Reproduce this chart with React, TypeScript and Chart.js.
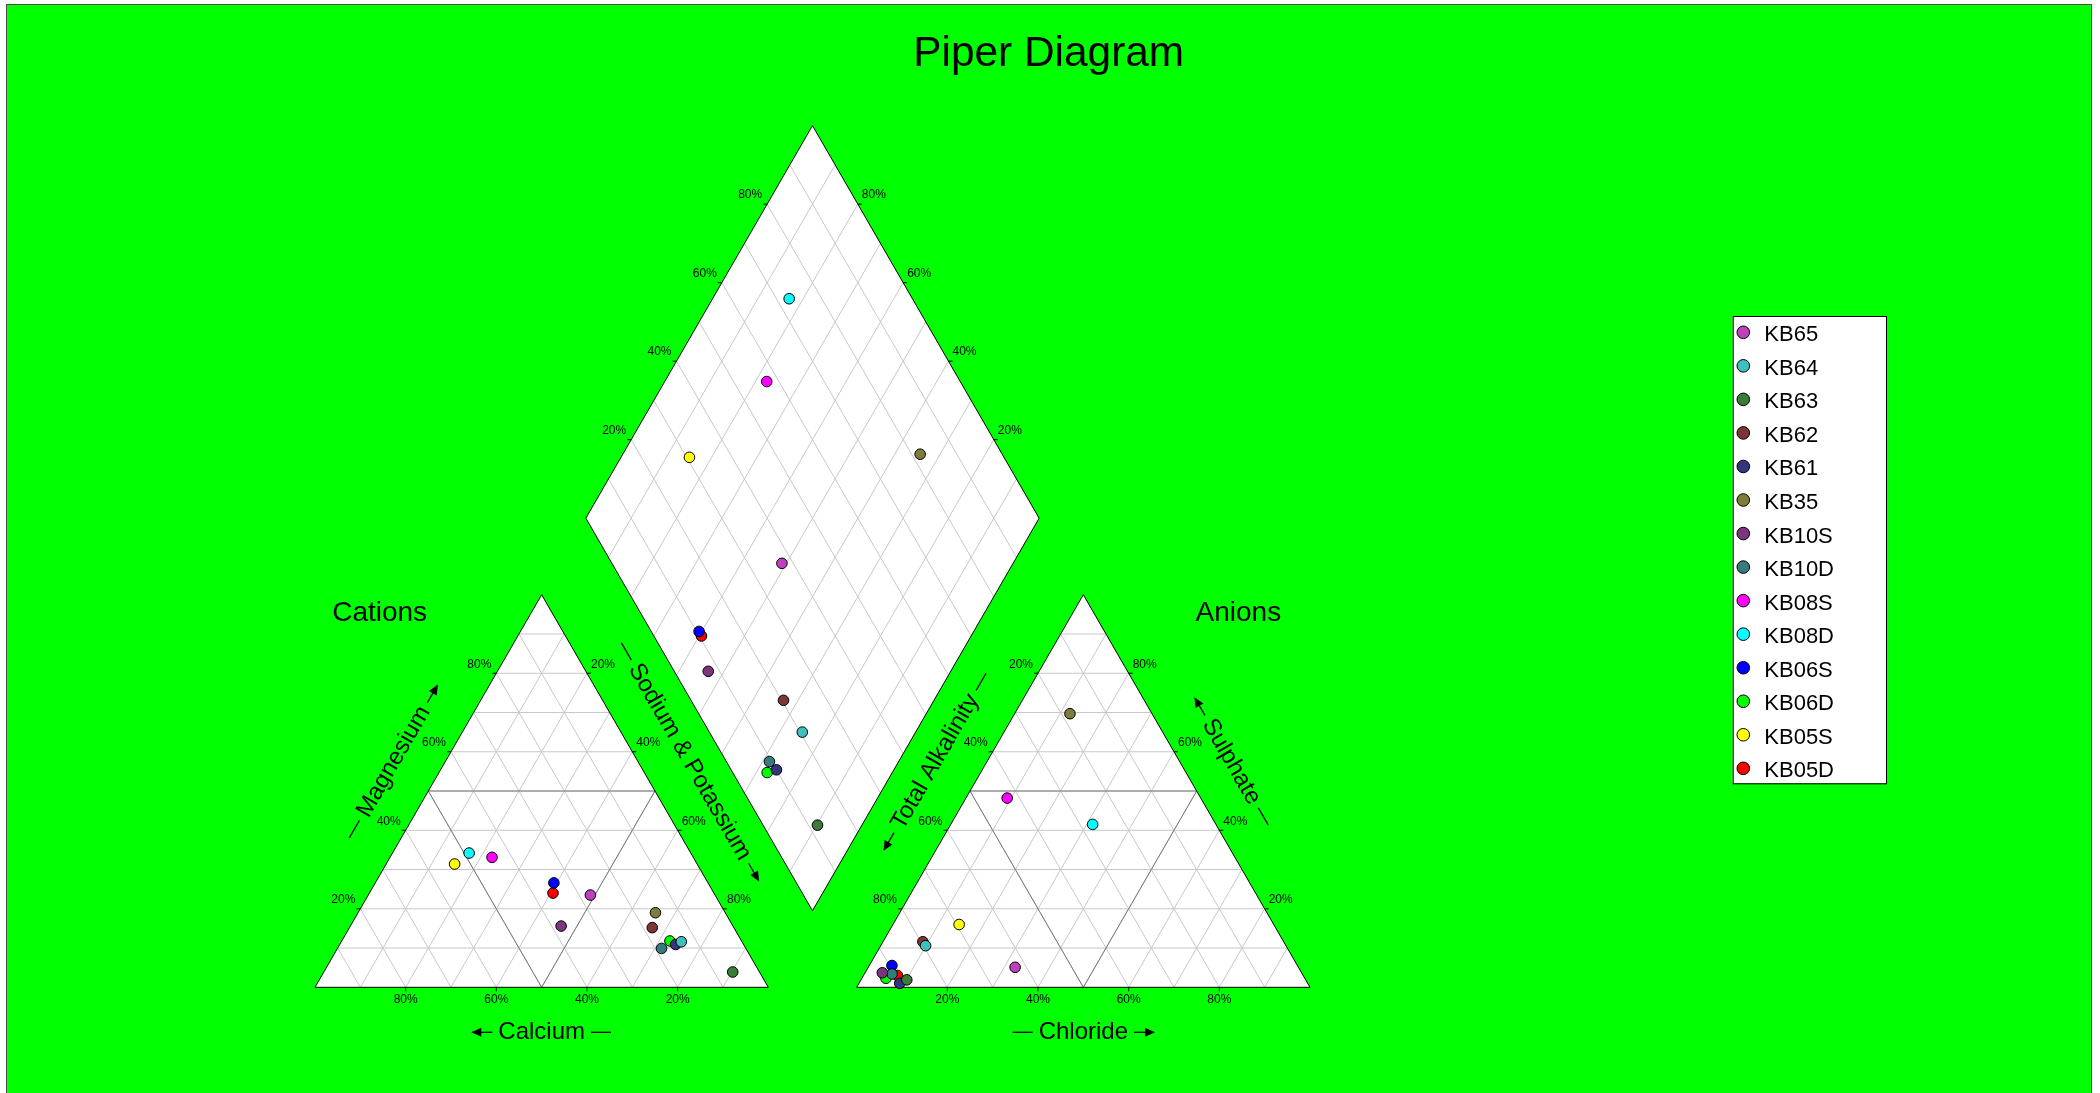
import React, { useEffect, useRef } from "react";
import { Chart, registerables } from "chart.js";

Chart.register(...registerables);

// ---- data (percent of milliequivalents) ----
const samples = ["KB65", "KB64", "KB63", "KB62", "KB61", "KB35", "KB10S", "KB10D", "KB08S", "KB08D", "KB06S", "KB06D", "KB05S", "KB05D"];
const colors = ["#bf40bf", "#40bfbf", "#3a7d3a", "#7d3535", "#35357d", "#7d7d3a", "#7d357d", "#357d7d", "#ff00ff", "#00ffff", "#0000ff", "#00ff00", "#ffff00", "#ff0000"];
const calcium = [27.5, 13.4, 5.9, 18.0, 15.0, 15.4, 37.9, 18.6, 44.4, 48.9, 34.0, 15.8, 53.5, 35.5];
const magnesium = [23.5, 11.6, 3.9, 15.2, 10.9, 19.0, 15.6, 9.9, 33.1, 34.2, 26.6, 11.8, 31.4, 24.0];
const sodiumPotassium = [49.0, 75.0, 90.2, 66.8, 74.1, 65.6, 46.5, 71.5, 22.5, 16.9, 39.4, 72.4, 15.1, 40.5];
const alkalinity = [62.5, 79.5, 88.0, 79.6, 90.0, 18.1, 92.5, 90.5, 42.7, 27.2, 89.45, 92.4, 69.4, 89.5];
const sulphate = [5.1, 10.6, 1.9, 11.6, 1.0, 69.7, 3.7, 3.4, 48.2, 41.5, 5.55, 2.3, 16.0, 3.0];
const chloride = [32.4, 9.9, 10.1, 8.8, 9.0, 12.2, 3.8, 6.1, 9.1, 31.3, 5.0, 5.3, 14.6, 7.5];
const tickValues = [20, 40, 60, 80];
const tickLabels = ["20%", "40%", "60%", "80%"];

// ---- geometry (data units, triangle side = 100) ----
const GAP = 19.5;
const H = Math.sqrt(3) / 2;
type P = { x: number; y: number };
const pt = (x: number, y: number): P => ({ x, y });
const lerp = (a: P, b: P, t: number): P => ({ x: a.x + (b.x - a.x) * t, y: a.y + (b.y - a.y) * t });

const catA = pt(0, 0), catB = pt(100, 0), catC = pt(50, 100 * H);
const anA = pt(100 + GAP, 0), anB = pt(200 + GAP, 0), anC = pt(150 + GAP, 100 * H);
const dB = pt(100 + GAP / 2, GAP * H), dL = pt(50 + GAP / 2, 100 * H + GAP * H);
const dR = pt(150 + GAP / 2, 100 * H + GAP * H), dT = pt(100 + GAP / 2, 200 * H + GAP * H);

function cationXY(i: number): P {
  const s = calcium[i] + magnesium[i] + sodiumPotassium[i];
  const mg = (magnesium[i] / s) * 100, na = (sodiumPotassium[i] / s) * 100;
  return { x: na + 0.5 * mg, y: H * mg };
}
function anionXY(i: number): P {
  const s = alkalinity[i] + sulphate[i] + chloride[i];
  const so4 = (sulphate[i] / s) * 100, cl = (chloride[i] / s) * 100;
  return { x: 100 + GAP + cl + 0.5 * so4, y: H * so4 };
}
function diamondXY(i: number): P {
  const sc = calcium[i] + magnesium[i] + sodiumPotassium[i];
  const sa = alkalinity[i] + sulphate[i] + chloride[i];
  const u = (calcium[i] + magnesium[i]) / sc;
  const v = (sulphate[i] + chloride[i]) / sa;
  return { x: 100 + GAP / 2 + 50 * (v - u), y: H * GAP + 100 * H * (u + v) };
}

const K = 4.533;
const X_MIN = -308 / K, X_MAX = (2084 - 308) / K;
const Y_MAX = 982.3 / K, Y_MIN = -(1088 - 982.3) / K;

const FONT = "'Liberation Sans', Arial, Helvetica, sans-serif";

const piperPlugin = {
  id: "piper",
  beforeDraw(chart: any) {
    const ctx = chart.ctx;
    ctx.save();
    ctx.fillStyle = "#00ff00";
    ctx.fillRect(0, 0, chart.width, chart.height);
    ctx.restore();
  },
  beforeDatasetsDraw(chart: any) {
    const ctx: CanvasRenderingContext2D = chart.ctx;
    const xs = chart.scales.x, ys = chart.scales.y;
    const px = (p: P) => ({ x: xs.getPixelForValue(p.x), y: ys.getPixelForValue(p.y) });
    const line = (a: P, b: P) => {
      const pa = px(a), pb = px(b);
      ctx.beginPath();
      ctx.moveTo(pa.x, pa.y);
      ctx.lineTo(pb.x, pb.y);
      ctx.stroke();
    };
    const poly = (pts: P[]) => {
      ctx.beginPath();
      pts.forEach((p, k) => {
        const q = px(p);
        if (k === 0) ctx.moveTo(q.x, q.y);
        else ctx.lineTo(q.x, q.y);
      });
      ctx.closePath();
    };
    ctx.save();
    // white fills
    ctx.fillStyle = "#ffffff";
    [[catA, catB, catC], [anA, anB, anC], [dB, dR, dT, dL]].forEach((sh) => {
      poly(sh);
      ctx.fill();
    });
    // light grid
    ctx.strokeStyle = "#c8c8c8";
    ctx.lineWidth = 1;
    [[catA, catB, catC], [anA, anB, anC]].forEach(([A, B, C]) => {
      for (let i = 1; i < 10; i++) {
        const f = i / 10;
        line(lerp(A, C, f), lerp(B, C, f));
        line(lerp(B, A, f), lerp(C, A, f));
        line(lerp(A, B, f), lerp(C, B, f));
      }
    });
    for (let i = 1; i < 10; i++) {
      const f = i / 10;
      line(lerp(dB, dR, f), lerp(dL, dT, f));
      line(lerp(dB, dL, f), lerp(dR, dT, f));
    }
    // inner classification triangles
    ctx.strokeStyle = "#787878";
    [[catA, catB, catC], [anA, anB, anC]].forEach(([A, B, C]) => {
      poly([lerp(A, B, 0.5), lerp(B, C, 0.5), lerp(C, A, 0.5)]);
      ctx.stroke();
    });
    // outlines
    ctx.strokeStyle = "#000000";
    [[catA, catB, catC], [anA, anB, anC], [dB, dR, dT, dL]].forEach((sh) => {
      poly(sh);
      ctx.stroke();
    });

    // ticks and tick labels
    ctx.fillStyle = "#000000";
    ctx.font = `12px ${FONT}`;
    const ticks = (from: P, to: P, side: "bottom" | "left" | "right") => {
      tickValues.forEach((v, k) => {
        const q = px(lerp(from, to, v / 100));
        ctx.beginPath();
        if (side === "bottom") {
          ctx.moveTo(q.x, q.y);
          ctx.lineTo(q.x, q.y + 4);
        } else if (side === "left") {
          ctx.moveTo(q.x, q.y);
          ctx.lineTo(q.x - 4, q.y);
        } else {
          ctx.moveTo(q.x, q.y);
          ctx.lineTo(q.x + 4, q.y);
        }
        ctx.stroke();
        ctx.textBaseline = "middle";
        if (side === "bottom") {
          ctx.textAlign = "center";
          ctx.fillText(tickLabels[k], q.x, q.y + 12);
        } else if (side === "left") {
          ctx.textAlign = "right";
          ctx.fillText(tickLabels[k], q.x - 5, q.y - 9);
        } else {
          ctx.textAlign = "left";
          ctx.fillText(tickLabels[k], q.x + 4, q.y - 9);
        }
      });
    };
    // cations
    ticks(catB, catA, "bottom"); // Calcium
    ticks(catA, catC, "left"); // Magnesium
    ticks(catC, catB, "right"); // Sodium & Potassium
    // anions
    ticks(anA, anB, "bottom"); // Chloride
    ticks(anC, anA, "left"); // Total Alkalinity
    ticks(anB, anC, "right"); // Sulphate
    // diamond
    ticks(dL, dT, "left");
    ticks(dR, dT, "right");

    // axis titles
    const arrowOrDash = (x0: number, x1: number, kind: "arrow" | "dash") => {
      ctx.beginPath();
      ctx.moveTo(x0, 0);
      ctx.lineTo(x1, 0);
      ctx.stroke();
      if (kind === "arrow") {
        const dir = Math.sign(x1 - x0);
        ctx.beginPath();
        ctx.moveTo(x1 + dir * 1, 0);
        ctx.lineTo(x1 - dir * 9, -4.5);
        ctx.lineTo(x1 - dir * 9, 4.5);
        ctx.closePath();
        ctx.fill();
      }
    };
    const title = (c: { x: number; y: number }, angle: number, word: string, left: "arrow" | "dash", right: "arrow" | "dash") => {
      ctx.save();
      ctx.translate(c.x, c.y);
      ctx.rotate(angle);
      ctx.font = `24px ${FONT}`;
      ctx.textAlign = "center";
      ctx.textBaseline = "alphabetic";
      const w = ctx.measureText(word).width;
      ctx.fillText(word, 0, 7);
      ctx.lineWidth = 1.3;
      arrowOrDash(-w / 2 - 6, -w / 2 - 26, left);
      arrowOrDash(w / 2 + 6, w / 2 + 26, right);
      ctx.restore();
    };
    const edgeLabelPos = (A: P, C: P, side: "left" | "right") => {
      const m = px(lerp(A, C, 0.5));
      if (side === "left") {
        return { x: m.x - 45 * H + 8 * 0.5, y: m.y - 45 * 0.5 - 8 * H };
      }
      return { x: m.x + 45 * H - 8 * 0.5, y: m.y - 45 * 0.5 - 8 * H };
    };
    const cb = px(lerp(catA, catB, 0.5));
    title({ x: cb.x, y: cb.y + 45 }, 0, "Calcium", "arrow", "dash");
    title(edgeLabelPos(catA, catC, "left"), -Math.PI / 3, "Magnesium", "dash", "arrow");
    title(edgeLabelPos(catB, catC, "right"), Math.PI / 3, "Sodium & Potassium", "dash", "arrow");
    const ab = px(lerp(anA, anB, 0.5));
    title({ x: ab.x, y: ab.y + 45 }, 0, "Chloride", "dash", "arrow");
    title(edgeLabelPos(anA, anC, "left"), -Math.PI / 3, "Total Alkalinity", "arrow", "dash");
    title(edgeLabelPos(anB, anC, "right"), Math.PI / 3, "Sulphate", "arrow", "dash");

    // triangle names
    ctx.font = `28px ${FONT}`;
    ctx.textAlign = "center";
    ctx.textBaseline = "alphabetic";
    const ct = px(catC), at = px(anC);
    ctx.fillText("Cations", ct.x - 162, ct.y + 26);
    ctx.fillText("Anions", at.x + 155, at.y + 26);

    // main title
    ctx.font = `42.4px ${FONT}`;
    ctx.fillText("Piper Diagram", 1041.7, 60.7);
    ctx.restore();
  },
  afterDatasetsDraw(chart: any) {
    const ctx: CanvasRenderingContext2D = chart.ctx;
    const ds = chart.data.datasets;
    const left = 1725.7, top = 311, w = 153.3, h = 467.3;
    ctx.save();
    ctx.fillStyle = "#ffffff";
    ctx.fillRect(left, top, w, h);
    ctx.strokeStyle = "#000000";
    ctx.lineWidth = 1;
    ctx.strokeRect(left + 0.5, top + 0.5, w, h);
    ctx.font = `22px ${FONT}`;
    ctx.textAlign = "left";
    ctx.textBaseline = "alphabetic";
    ds.forEach((d: any, i: number) => {
      const cy = 327.3 + i * 33.54;
      ctx.beginPath();
      ctx.arc(1736.3, cy, 6.3, 0, Math.PI * 2);
      ctx.fillStyle = d.backgroundColor;
      ctx.fill();
      ctx.strokeStyle = "#000";
      ctx.stroke();
      ctx.fillStyle = "#000";
      ctx.fillText(d.label, 1757.3, cy + 9);
    });
    ctx.restore();
  },
};

export default function App() {
  const ref = useRef<HTMLCanvasElement>(null);
  useEffect(() => {
    const chart = new Chart(ref.current as HTMLCanvasElement, {
      type: "scatter",
      data: {
        datasets: samples.map((s, i) => ({
          label: s,
          data: [cationXY(i), anionXY(i), diamondXY(i)],
          backgroundColor: colors[i],
          borderColor: "#000000",
          borderWidth: 1,
          pointRadius: 5.3,
          pointHoverRadius: 5.3,
          showLine: false,
          clip: false as any,
        })),
      },
      options: {
        responsive: false,
        maintainAspectRatio: false,
        animation: false,
        events: [],
        layout: { padding: 0, autoPadding: false },
        plugins: {
          legend: { display: false },
          tooltip: { enabled: false },
          title: { display: false },
        },
        scales: {
          x: { type: "linear", min: X_MIN, max: X_MAX, display: false },
          y: { type: "linear", min: Y_MIN, max: Y_MAX, display: false },
        },
      },
      plugins: [piperPlugin],
    });
    return () => chart.destroy();
  }, []);
  return (
    <div
      style={{
        position: "absolute",
        left: 6,
        top: 4,
        width: 2084,
        height: 1088,
        borderTop: "1px solid #4d4d4d",
        borderLeft: "1px solid #4d4d4d",
        borderRight: "1px solid #4d4d4d",
        background: "#00ff00",
        overflow: "hidden",
      }}
    >
      <canvas ref={ref} width={2084} height={1088} style={{ display: "block", width: 2084, height: 1088 }} />
    </div>
  );
}
